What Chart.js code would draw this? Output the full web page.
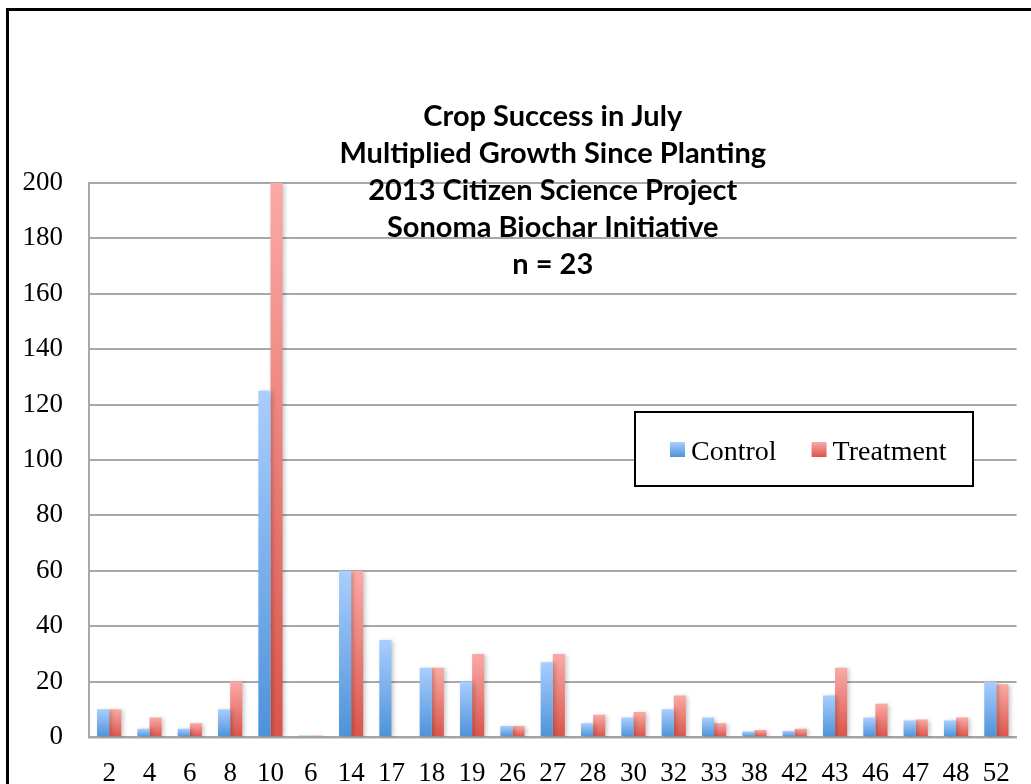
<!DOCTYPE html>
<html>
<head>
<meta charset="utf-8">
<title>Crop Success in July</title>
<script src="https://cdn.jsdelivr.net/npm/chart.js@4.4.1/dist/chart.umd.min.js"></script>
<style>
    html, body { margin: 0; padding: 0; background: #fff; overflow: hidden; }
    #frame { position: absolute; left: 6px; top: 8px; width: 1100px; height: 900px; border: 3px solid #000; }
    #cropChart { position: absolute; left: 0; top: 0; }
</style>
</head>
<body>
<div id="frame"></div>
<canvas id="cropChart" width="1031" height="784"></canvas>
<script>
// Plot numbers (x categories as printed on the chart)
const plots = ['2', '4', '6', '8', '10', '6', '14', '17', '18', '19', '26', '27',
    '28', '30', '32', '33', '38', '42', '43', '46', '47', '48', '52'];
const control = [10, 3, 3, 10, 125, 0.5, 60, 35, 25, 20, 4, 27,
    5, 7, 10, 7, 2, 2.2, 15, 7, 6, 6, 20];
const treatment = [10, 7, 5, 20, 200, 0.5, 60, 0, 25, 30, 4, 30,
    8, 9, 15, 5, 2.5, 3, 25, 12, 6.3, 7, 19];
const yTicks = [0, 20, 40, 60, 80, 100, 120, 140, 160, 180, 200];

const titleLines = [
    'Crop Success in July',
    'Multiplied Growth Since Planting',
    '2013 Citizen Science Project',
    'Sonoma Biochar Initiative',
    'n = 23'
];

const serif = '"Liberation Serif", "DejaVu Serif", serif';
const colors = {
    control: ['#a9cefe', '#4d92d9'],
    treatment: ['#fba9a6', '#d9554b']
};

const ctx = document.getElementById('cropChart').getContext('2d');

// vertical gradient for each bar, light at the top, dark at the base
function barGradient(context, pair) {
    const chart = context.chart;
    const area = chart.chartArea;
    if (!area || context.raw === undefined) return pair[1];
    const y = chart.scales.y;
    const top = y.getPixelForValue(context.raw);
    const bottom = y.getPixelForValue(0);
    if (bottom - top < 1) return pair[1];
    const g = chart.ctx.createLinearGradient(0, top, 0, bottom);
    g.addColorStop(0, pair[0]);
    g.addColorStop(1, pair[1]);
    return g;
}

function squareGradient(c, x, y, size, pair) {
    const g = c.createLinearGradient(0, y, 0, y + size);
    g.addColorStop(0, pair[0]);
    g.addColorStop(1, pair[1]);
    return g;
}

const barShadow = {
    id: 'barShadow',
    beforeDatasetsDraw(chart) {
        const c = chart.ctx;
        c.save();
        c.shadowColor = 'rgba(0, 0, 0, 0.22)';
        c.shadowBlur = 4;
        c.shadowOffsetX = 2;
        c.shadowOffsetY = 1;
    },
    afterDatasetsDraw(chart) {
        chart.ctx.restore();
    }
};

const titleAndLegend = {
    id: 'titleAndLegend',
    afterDraw(chart) {
        const c = chart.ctx;
        const area = chart.chartArea;
        const cx = (area.left + area.right) / 2;

        // title, overlapping the top of the plot
        c.save();
        c.fillStyle = '#000';
        c.font = 'bold 29px Lato, "Open Sans", sans-serif';
        c.textAlign = 'center';
        c.textBaseline = 'middle';
        titleLines.forEach((line, i) => {
            c.fillText(line, cx, 117 + i * 37);
        });

        // legend box
        c.fillStyle = '#fff';
        c.fillRect(635, 412, 338, 74);
        c.strokeStyle = '#000';
        c.lineWidth = 2;
        c.strokeRect(635, 412, 338, 74);

        c.font = '28px ' + serif;
        c.textAlign = 'left';
        c.textBaseline = 'alphabetic';
        const keys = [colors.control, colors.treatment];
        let x = 670;
        chart.data.datasets.forEach((ds, i) => {
            c.fillStyle = squareGradient(c, x, 442, 15, keys[i]);
            c.fillRect(x, 442, 15, 15);
            c.fillStyle = '#000';
            c.fillText(ds.label, x + 21, 460);
            x += 21 + c.measureText(ds.label).width + 35;
        });
        c.restore();
    }
};

const chart = new Chart(ctx, {
    type: 'bar',
    data: {
        labels: plots,
        datasets: [{
            label: 'Control',
            data: control,
            backgroundColor: (context) => barGradient(context, colors.control),
            borderWidth: 0
        }, {
            label: 'Treatment',
            data: treatment,
            backgroundColor: (context) => barGradient(context, colors.treatment),
            borderWidth: 0
        }]
    },
    options: {
        responsive: false,
        animation: false,
        events: [],
        layout: {
            padding: { top: 183, right: 6, left: 0, bottom: 0 }
        },
        plugins: {
            legend: { display: false },
            title: { display: false },
            tooltip: { enabled: false }
        },
        datasets: {
            bar: {
                categoryPercentage: 0.6,
                barPercentage: 1.0
            }
        },
        scales: {
            x: {
                grid: { display: false, drawTicks: false },
                border: { color: '#a4a4a4', width: 2.5 },
                ticks: {
                    color: '#000',
                    font: { family: serif, size: 27 },
                    padding: 21,
                    maxRotation: 0,
                    autoSkip: false
                },
                afterFit(scale) { scale.height = 47; }
            },
            y: {
                min: 0,
                max: 200,
                afterBuildTicks(scale) {
                    scale.ticks = yTicks.map(v => ({ value: v }));
                },
                grid: { color: '#a8a8a8', lineWidth: 2, drawTicks: false },
                border: { color: '#a8a8a8', width: 2 },
                ticks: {
                    color: '#000',
                    font: { family: serif, size: 27 },
                    padding: 26
                },
                afterFit(scale) { scale.width = 89; }
            }
        }
    },
    plugins: [barShadow, titleAndLegend]
});
</script>
</body>
</html>
